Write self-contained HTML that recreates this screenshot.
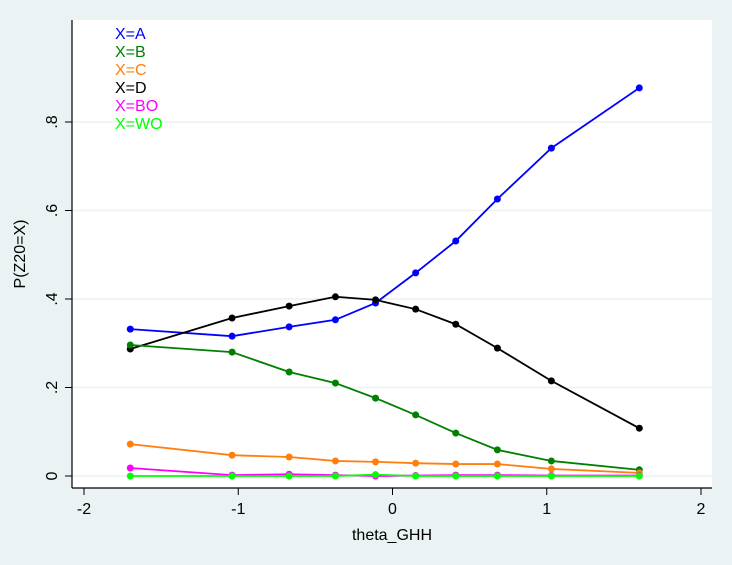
<!DOCTYPE html>
<html><head><meta charset="utf-8"><style>
html,body{margin:0;padding:0;background:#eaf2f3;}
svg{display:block;font-family:"Liberation Sans",Arial,sans-serif;}
</style></head><body>
<svg id="chart" width="732" height="565" viewBox="0 0 732 565">
<rect x="0" y="0" width="732" height="565" fill="#eaf2f3"/>
<rect x="72" y="20" width="640" height="468" fill="#ffffff"/>
<g id="grid"></g><g id="axes"></g><g id="series"></g><g id="legend"></g>
<text x="392" y="540" font-size="16" text-anchor="middle" fill="#000">theta_GHH</text>
<text transform="translate(25,254) rotate(-90)" font-size="16" text-anchor="middle" fill="#000">P(Z20=X)</text>
</svg>
<script>
const xVals=[-1.70,-1.04,-0.67,-0.37,-0.11,0.15,0.41,0.68,1.03,1.60];
const seriesNames=["X=A","X=B","X=C","X=D","X=BO","X=WO"];
const seriesColors=["#0000ff","#008000","#ff7f0e","#000000","#ff00ff","#00ff00"];
const valsA=[0.332,0.316,0.337,0.353,0.391,0.459,0.531,0.626,0.741,0.877];
const valsB=[0.296,0.280,0.235,0.210,0.176,0.138,0.097,0.059,0.034,0.014];
const valsC=[0.072,0.047,0.043,0.034,0.032,0.029,0.027,0.027,0.016,0.007];
const valsD=[0.287,0.357,0.384,0.405,0.398,0.377,0.343,0.289,0.215,0.108];
const valsBO=[0.018,0.002,0.004,0.002,0.000,0.001,0.002,0.002,0.001,0.001];
const valsWO=[0.000,0.000,0.000,0.000,0.003,0.000,0.000,0.000,0.000,0.000];
const xTicks=[-2,-1,0,1,2];
const yTicks=[0,0.2,0.4,0.6,0.8];
const yTickLabels=["0",".2",".4",".6",".8"];
const NS="http://www.w3.org/2000/svg";
function sx(v){return 84+(v+2)*154.25;}
function sy(v){return 476-v*442.5;}
function mk(tag,attrs,parent){const e=document.createElementNS(NS,tag);for(const k in attrs)e.setAttribute(k,attrs[k]);parent.appendChild(e);return e;}
const grid=document.getElementById('grid'),axes=document.getElementById('axes'),ser=document.getElementById('series'),leg=document.getElementById('legend');
yTicks.forEach((t,i)=>{
 const g=mk('line',{x1:72,x2:712,y1:sy(t),y2:sy(t),stroke:'#eaf2f3','stroke-width':1.5},grid);
 
 
 const tk=mk('line',{x1:65,x2:72,y1:sy(t),y2:sy(t),stroke:'#000'},axes);
 
 
 const tx=mk('text',{transform:`translate(57,${sy(t)}) rotate(-90)`,'font-size':16,'text-anchor':'middle',fill:'#000'},axes);
 tx.textContent=yTickLabels[i];
 
 
});
xTicks.forEach(t=>{
 const tk=mk('line',{x1:sx(t),x2:sx(t),y1:488,y2:495,stroke:'#000'},axes);
 
 
 const tx=mk('text',{x:sx(t),y:514,'font-size':16,'text-anchor':'middle',fill:'#000'},axes);
 tx.textContent=String(t);
 
 
});
const ya=mk('line',{x1:72,x2:72,y1:20,y2:488,stroke:'#000','stroke-width':1.2},axes);


const xa=mk('line',{x1:72,x2:712,y1:488,y2:488,stroke:'#000','stroke-width':1.2},axes);


const allVals=[valsA,valsB,valsC,valsD,valsBO,valsWO];
const order=[0,3,1,2,4,5];
order.forEach(si=>{
 const vals=allVals[si],c=seriesColors[si];
 const g=mk('g',{},ser);
 
 
 const pl=mk('polyline',{points:vals.map((v,i)=>sx(xVals[i])+','+sy(v)).join(' '),fill:'none',stroke:c,'stroke-width':1.8},g);
 
 
 vals.forEach((v,i)=>{
  const p=mk('circle',{cx:sx(xVals[i]),cy:sy(v),r:3.5,fill:c},g);
  
  
 });
});
seriesNames.forEach((n,i)=>{
 const t=mk('text',{x:115,y:39+i*18,'font-size':16,fill:seriesColors[i]},leg);
 t.textContent=n;
 
 
});
</script>
</body></html>
